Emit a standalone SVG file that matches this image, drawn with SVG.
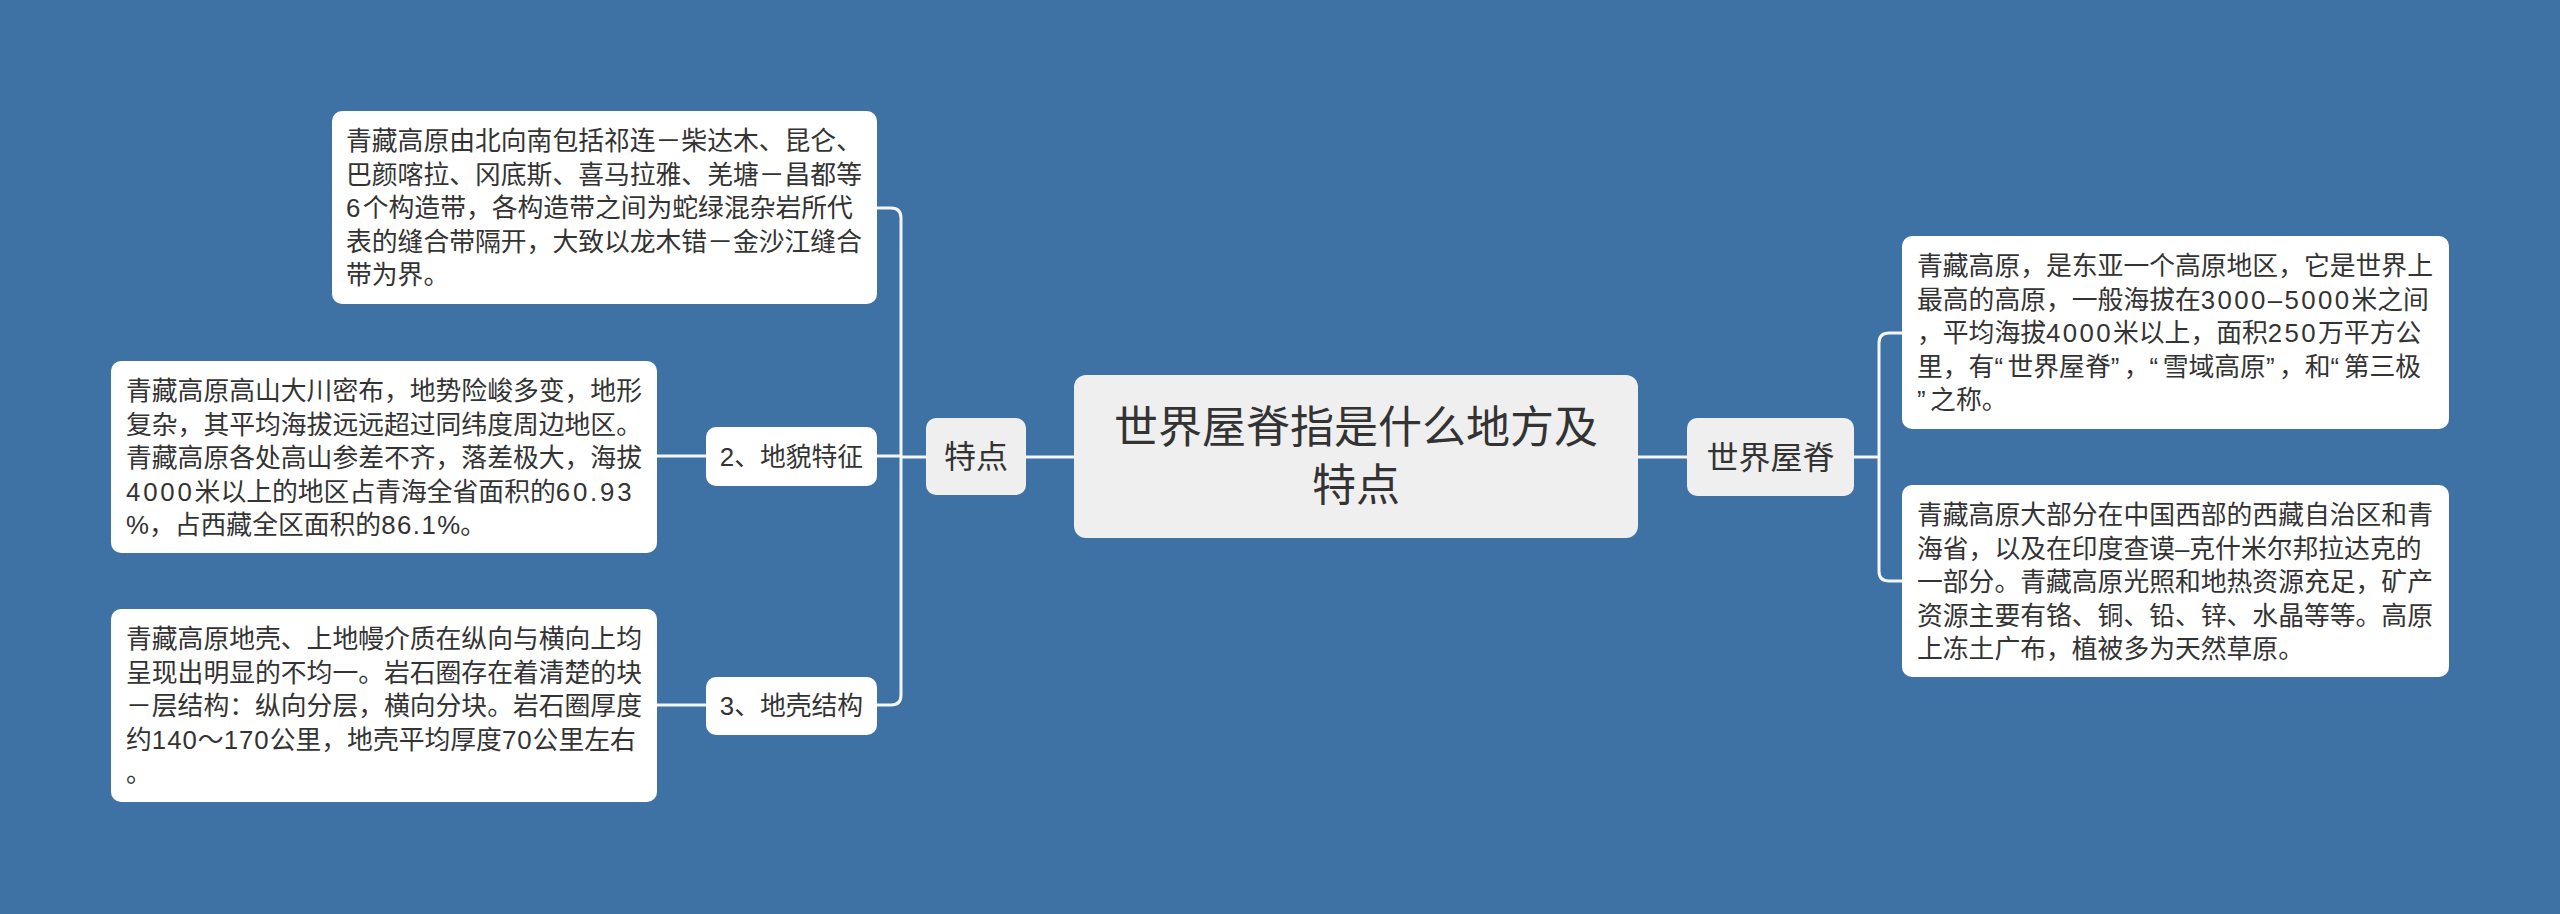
<svg xmlns="http://www.w3.org/2000/svg" width="2560" height="914" viewBox="0 0 2560 914">
<style>
.t{font-family:"Liberation Sans","Noto Sans CJK SC",sans-serif;fill:#333333}
.body{font-size:25.8px}
.leaf{fill:#ffffff}
.topic{fill:#efefef}
.conn{fill:none;stroke:#f4f6f9;stroke-width:3}
.d{letter-spacing:2.4px}
.q{letter-spacing:4.5px}
</style>
<rect width="2560" height="914" fill="#3e71a4"/>
<g id="connectors">
<path class="conn" d="M1074 457 H1026"/>
<path class="conn" d="M926 457 H901"/>
<path class="conn" d="M877 208 H891 Q901 208 901 218 V695 Q901 705 891 705 H877"/>
<path class="conn" d="M901 456 H877"/>
<path class="conn" d="M706 456 H657"/>
<path class="conn" d="M706 705 H657"/>
<path class="conn" d="M1638 457 H1687"/>
<path class="conn" d="M1854 457 H1879"/>
<path class="conn" d="M1902 333 H1889 Q1879 333 1879 343 V571 Q1879 581 1889 581 H1902"/>
</g>
<g id="center">
<rect class="topic" x="1074" y="375" width="564" height="163" rx="12"/>
<text class="t" font-size="44" text-anchor="middle"><tspan x="1356" y="443">世界屋脊指是什么地方及</tspan><tspan x="1356" y="501">特点</tspan></text>
</g>
<g id="tedian">
<rect class="topic" x="926" y="418" width="100" height="77" rx="10"/>
<text class="t" font-size="32" x="976" y="468" text-anchor="middle">特点</text>
</g>
<g id="shijiewuji">
<rect class="topic" x="1687" y="418" width="167" height="78" rx="10"/>
<text class="t" font-size="32" x="1770.5" y="469" text-anchor="middle">世界屋脊</text>
</g>
<g id="dimao">
<rect class="leaf" x="706" y="427" width="171" height="59" rx="10"/>
<text class="t body" x="791.5" y="466" text-anchor="middle">2、地貌特征</text>
</g>
<g id="diqiao">
<rect class="leaf" x="706" y="677" width="171" height="58" rx="10"/>
<text class="t body" x="791.5" y="715" text-anchor="middle">3、地壳结构</text>
</g>
<g id="leaf1">
<rect class="leaf" x="332" y="111" width="545" height="193" rx="10"/>
<text class="t body"><tspan x="346" y="150">青藏高原由北向南包括祁连－柴达木、昆仑、</tspan><tspan x="346" y="183.5">巴颜喀拉、冈底斯、喜马拉雅、羌塘－昌都等</tspan><tspan x="346" y="217"><tspan class="d">6</tspan>个构造带，各构造带之间为蛇绿混杂岩所代</tspan><tspan x="346" y="250.5">表的缝合带隔开，大致以龙木错－金沙江缝合</tspan><tspan x="346" y="284">带为界。</tspan></text>
</g>
<g id="leaf2">
<rect class="leaf" x="111" y="361" width="546" height="192" rx="10"/>
<text class="t body"><tspan x="126" y="400">青藏高原高山大川密布，地势险峻多变，地形</tspan><tspan x="126" y="433.5">复杂，其平均海拔远远超过同纬度周边地区。</tspan><tspan x="126" y="467">青藏高原各处高山参差不齐，落差极大，海拔</tspan><tspan x="126" y="500.5"><tspan letter-spacing="2.8">4000</tspan>米以上的地区占青海全省面积的<tspan letter-spacing="2.8">60.93</tspan></tspan><tspan x="126" y="534">%，占西藏全区面积的<tspan letter-spacing="1.5">86.1</tspan>%。</tspan></text>
</g>
<g id="leaf3">
<rect class="leaf" x="111" y="609" width="546" height="193" rx="10"/>
<text class="t body"><tspan x="126" y="648">青藏高原地壳、上地幔介质在纵向与横向上均</tspan><tspan x="126" y="681.5">呈现出明显的不均一。岩石圈存在着清楚的块</tspan><tspan x="126" y="715">－层结构：纵向分层，横向分块。岩石圈厚度</tspan><tspan x="126" y="748.5">约<tspan letter-spacing="1">140</tspan>～<tspan letter-spacing="1">170</tspan>公里，地壳平均厚度<tspan letter-spacing="1">70</tspan>公里左右</tspan><tspan x="126" y="782">。</tspan></text>
</g>
<g id="leaf4">
<rect class="leaf" x="1902" y="236" width="547" height="193" rx="10"/>
<text class="t body"><tspan x="1917" y="275">青藏高原，是东亚一个高原地区，它是世界上</tspan><tspan x="1917" y="308.5">最高的高原，一般海拔在<tspan class="d">3000–5000</tspan>米之间</tspan><tspan x="1917" y="342">，平均海拔<tspan class="d">4000</tspan>米以上，面积<tspan class="d">250</tspan>万平方公</tspan><tspan x="1917" y="375.5">里，有<tspan class="q">“</tspan>世界屋脊<tspan class="q">”</tspan>，<tspan class="q">“</tspan>雪域高原<tspan class="q">”</tspan>，和<tspan class="q">“</tspan>第三极</tspan><tspan x="1917" y="409"><tspan class="q">”</tspan>之称。</tspan></text>
</g>
<g id="leaf5">
<rect class="leaf" x="1902" y="485" width="547" height="192" rx="10"/>
<text class="t body"><tspan x="1917" y="524">青藏高原大部分在中国西部的西藏自治区和青</tspan><tspan x="1917" y="557.5">海省，以及在印度查谟–克什米尔邦拉达克的</tspan><tspan x="1917" y="591">一部分。青藏高原光照和地热资源充足，矿产</tspan><tspan x="1917" y="624.5">资源主要有铬、铜、铅、锌、水晶等等。高原</tspan><tspan x="1917" y="658">上冻土广布，植被多为天然草原。</tspan></text>
</g>
</svg>
